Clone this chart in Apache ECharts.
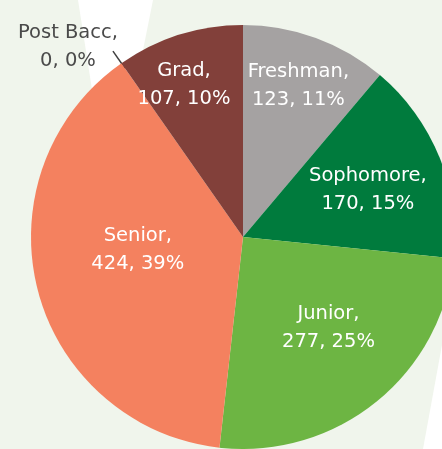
<!DOCTYPE html>
<html><head><meta charset="utf-8">
<script src="https://cdn.jsdelivr.net/npm/echarts@6/dist/echarts.min.js"></script>
<style>html,body{margin:0;padding:0;background:#f0f5ec}#c{width:442px;height:449px}</style>
</head><body><div id="c"></div>
<script>
const categories = ['Freshman', 'Sophomore', 'Junior', 'Senior', 'Post Bacc', 'Grad'];
const counts = [123, 170, 277, 424, 0, 107];
const colors = ['#a5a2a2', '#007b3d', '#6db543', '#f4815f', '#8a8a8a', '#82403a'];
const labelColors = ['#fff', '#fff', '#fff', '#fff', '#4a4a4a', '#fff'];
const labelRadius = [0.76, 0.63, 0.59, 0.50, 1.22, 0.77];
const labelAngleShift = [0, 1.2, -4.2, 7.3, -7.6, -3.7];

const CX = 243, CY = 237, R = 212;
const total = counts.reduce((a, b) => a + b, 0);
const starts = []; let acc = 0;
counts.forEach(v => { starts.push(acc); acc += v; });
function pt(angleDeg, r) {
  const a = angleDeg * Math.PI / 180;
  return [CX + r * Math.sin(a), CY - r * Math.cos(a)];
}

const chart = echarts.init(document.getElementById('c'), null, {renderer: 'canvas'});
chart.setOption({
  backgroundColor: '#f0f5ec',
  animation: false,
  graphic: [
    {type: 'polygon', z: -10, shape: {points: [[78, 0], [153, 0], [111, 211]]}, style: {fill: '#ffffff'}},
    {type: 'polygon', z: -10, shape: {points: [[442, 345], [442, 449], [423, 449]]}, style: {fill: '#ffffff'}}
  ],
  series: [{
    type: 'pie',
    center: [CX, CY],
    radius: R,
    startAngle: 90,
    clockwise: true,
    avoidLabelOverlap: false,
    itemStyle: {borderWidth: 0},
    label: {
      show: true,
      position: 'inside',
      fontFamily: 'DejaVu Sans',
      fontSize: 19.5,
      lineHeight: 28,
      align: 'center',
      formatter: p => p.name + ',\n' + p.value + ', ' + Math.round(p.percent) + '%'
    },
    labelLine: {show: false},
    data: categories.map((name, i) => ({
      name: name,
      value: counts[i],
      itemStyle: {color: colors[i]},
      label: {color: labelColors[i], position: counts[i] === 0 ? 'outside' : 'inside'},
      labelLine: counts[i] === 0 ? {show: true, lineStyle: {color: '#404040', width: 1.5}} : {show: false}
    })),
    labelLayout: function (p) {
      const i = p.dataIndex;
      const mid = (starts[i] + counts[i] / 2) / total * 360;
      const xy = pt(mid + labelAngleShift[i], labelRadius[i] * R);
      const out = {x: xy[0], y: xy[1], align: 'center', verticalAlign: 'middle'};
      if (counts[i] === 0) {
        const a = pt(mid, 0.97 * R), b = pt(mid, 1.07 * R);
        out.labelLinePoints = [a, b, b];
      }
      return out;
    }
  }]
});
</script>
</body></html>
